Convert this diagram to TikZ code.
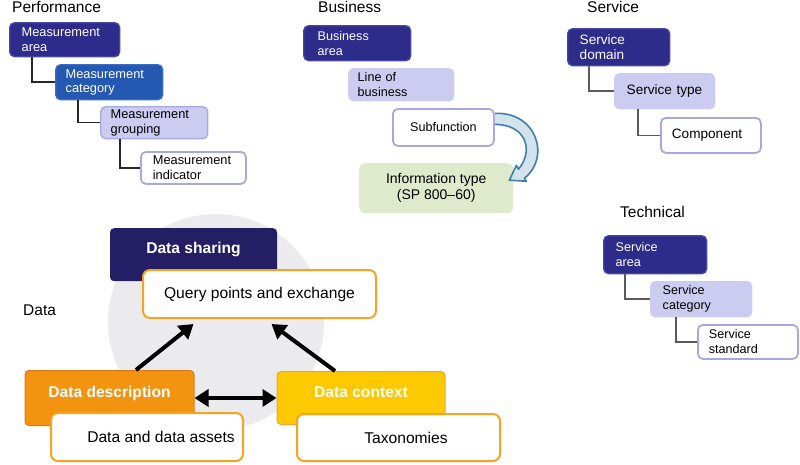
\documentclass[tikz,border=0pt]{standalone}
\usepackage{fontspec}
\setmainfont{Liberation Sans}
\usetikzlibrary{arrows.meta,calc}
\definecolor{navy}{HTML}{2E2C8A}
\definecolor{navyline}{HTML}{4746A0}
\definecolor{midblue}{HTML}{2558B2}
\definecolor{midblueline}{HTML}{3A6CC0}
\definecolor{lav}{HTML}{CBCCF0}
\definecolor{lavline}{HTML}{A7A8E2}
\definecolor{connc}{HTML}{5A5A5A}
\definecolor{greenbox}{HTML}{DFE9CC}
\definecolor{arrowblue}{HTML}{3F7FAE}
\definecolor{arrowfill}{HTML}{D3E3EC}
\definecolor{circgray}{HTML}{EBEBED}
\definecolor{dsnavy}{HTML}{241E64}
\definecolor{orangef}{HTML}{F29410}
\definecolor{oranged}{HTML}{DB7A14}
\definecolor{yellowf}{HTML}{FDC900}
\definecolor{yellowd}{HTML}{F3A52A}
\definecolor{orline}{HTML}{F6A323}
\begin{document}
\begin{tikzpicture}[x=1pt,y=-1pt,
  tbox/.style={anchor=north west, rounded corners=5pt, line width=1.4pt,
    inner xsep=12pt, inner ysep=0pt, align=left},
  navybox/.style={tbox, fill=navy, draw=navyline, text=white},
  bluebox/.style={tbox, fill=midblue, draw=midblueline, text=white},
  lavbox/.style={tbox, fill=lav, draw=lav},
  lavedge/.style={tbox, fill=lav, draw=lavline},
  whitebox/.style={tbox, fill=white, draw=lavline, line width=1.8pt},
  pf/.style={font=\fontsize{12.8}{14.5}\selectfont},
  bf/.style={font=\fontsize{12.6}{15}\selectfont},
  sf/.style={font=\fontsize{13.6}{15}\selectfont},
  tf/.style={font=\fontsize{12.6}{15}\selectfont},
  title/.style={anchor=base west, inner sep=0pt, font=\fontsize{15.5}{18}\selectfont},
  conn/.style={draw=connc, line width=1.5pt},
  pconn/.style={draw=black!85, line width=1.5pt},
  dhead/.style={anchor=north, rounded corners=4pt, inner sep=0pt, text=white,
    font=\bfseries\fontsize{15.6}{18}\selectfont},
  obox/.style={anchor=north west, rounded corners=7pt, fill=white, draw=orline,
    line width=2pt, inner sep=0pt, align=center, font=\fontsize{15.6}{18}\selectfont},
  bigarrow/.style={line width=4pt, black, -{Triangle[length=14pt,width=17pt]}},
]
\useasboundingbox (0,0) rectangle (800,464);

% ---------- titles
\node[title] (tperf) at (12,12) {Performance};
\node[title] (tbus) at (318,12) {Business};
\node[title] (tser) at (587,12) {Service};
\node[title] (ttech) at (620,217) {Technical};
\node[title] (tdata) at (23,315) {Data};

% ---------- Performance
\node[navybox, pf, minimum width=110, minimum height=34, text width=86] (pa) at (9,22) {Measurement\\area};
\node[bluebox, pf, minimum width=107, minimum height=35, text width=87, inner xsep=10pt] (pc) at (55,64) {Measurement\\category};
\node[lavedge, pf, minimum width=107, minimum height=32, text width=87, inner xsep=10pt] (pg) at (100,106) {Measurement\\grouping};
\node[whitebox, pf, minimum width=105, minimum height=32, text width=81] (pi) at (140,151) {Measurement\\indicator};
\draw[pconn] (32,0 |- pa.south) |- (pc.west);
\draw[pconn] (78,0 |- pc.south) |- (pg.west);
\draw[pconn] (120,0 |- pg.south) |- (pi.west);

% ---------- Business
\node[navybox, bf, minimum width=107, minimum height=35, text width=79, inner xsep=14pt] (ba) at (303,25) {Business\\area};
\node[lavbox, bf, minimum width=105, minimum height=32, text width=87, inner xsep=9pt] (lb) at (348,68) {Line of\\business};
\node[whitebox, bf, minimum width=101, minimum height=37, text width=77, align=center] (sfn) at (392,108) {Subfunction};
\node[anchor=north west, rounded corners=6pt, fill=greenbox, inner sep=0pt,
  minimum width=154, minimum height=50, align=center,
  font=\fontsize{14}{16}\selectfont] (it) at (359,163) {Information type\\(SP 800--60)};
% curved block arrow from Subfunction to Information type
\filldraw[draw=arrowblue, fill=arrowfill, line width=1.6pt, line join=round]
  ($(sfn.east)+(0,-14)$) .. controls ($(sfn.east)+(42,-16)$) and ($(sfn.east)+(56,30)$) .. ($(it.east)+(11,-10)$)
  -- ($(it.east)+(13,-7)$) -- ($(it.east)+(-4,-8)$) -- ($(it.east)+(3,-23)$) -- ($(it.east)+(5,-19)$)
  .. controls ($(sfn.east)+(39,24)$) and ($(sfn.east)+(32,-3)$) .. ($(sfn.east)+(0,-3)$);

% ---------- Service
\node[navybox, sf, minimum width=102, minimum height=37, text width=78] (sd) at (567,28) {Service\\domain};
\node[lavbox, sf, minimum width=100, minimum height=35, text width=76] (st) at (614,73) {Service type};
\node[whitebox, sf, minimum width=100, minimum height=35, text width=78, inner xsep=11pt] (co) at (660,117) {Component};
\draw[conn] (589,0 |- sd.south) |- (st.west);
\draw[conn] (638,0 |- st.south) |- (co.west);

% ---------- Technical
\node[navybox, tf, minimum width=103, minimum height=38, text width=79] (sa) at (603,235) {Service\\area};
\node[lavbox, tf, minimum width=101, minimum height=35, text width=77] (sc) at (650,281) {Service\\category};
\node[whitebox, tf, minimum width=100, minimum height=34, text width=78, inner xsep=11pt] (ss) at (697,324) {Service\\standard};
\draw[conn] (625,0 |- sa.south) |- (sc.west);
\draw[conn] (676,0 |- sc.south) |- (ss.west);

% ---------- Data
\fill[circgray] (216,322) circle (108);
\node[dhead, fill=dsnavy, minimum width=167, text height=25pt, text depth=28pt] (ds) at (193.5,228) {Data sharing};
\node[obox, minimum width=233, minimum height=48] (qp) at (142,269) {Query points and exchange};

\node[dhead, fill=orangef, draw=oranged, line width=1pt, minimum width=169, text height=27pt, text depth=28pt] (dd) at (109.5,370) {Data description};
\node[obox, minimum width=192, minimum height=48] (dda) at (50,412) {\hspace*{28pt}Data and data assets};

\node[dhead, fill=yellowf, draw=yellowd, line width=1pt, minimum width=168, text height=26pt, text depth=27pt] (dc) at (361,371) {Data context};
\node[obox, minimum width=203, minimum height=47] (tax) at (296,413) {\hspace*{15pt}Taxonomies};

\coordinate (qpl) at ([xshift=-66pt,yshift=-5pt]qp.south);
\coordinate (qpr) at ([xshift=12pt,yshift=-5pt]qp.south);
\draw[bigarrow] (136,0 |- dd.north) -- (qpl);
\draw[bigarrow] (335,0 |- dc.north) -- (qpr);
\draw[line width=4pt, black, {Triangle[length=14pt,width=17pt]}-{Triangle[length=14pt,width=17pt]}] (dd.east) -- (dc.west);
\end{tikzpicture}
\end{document}
